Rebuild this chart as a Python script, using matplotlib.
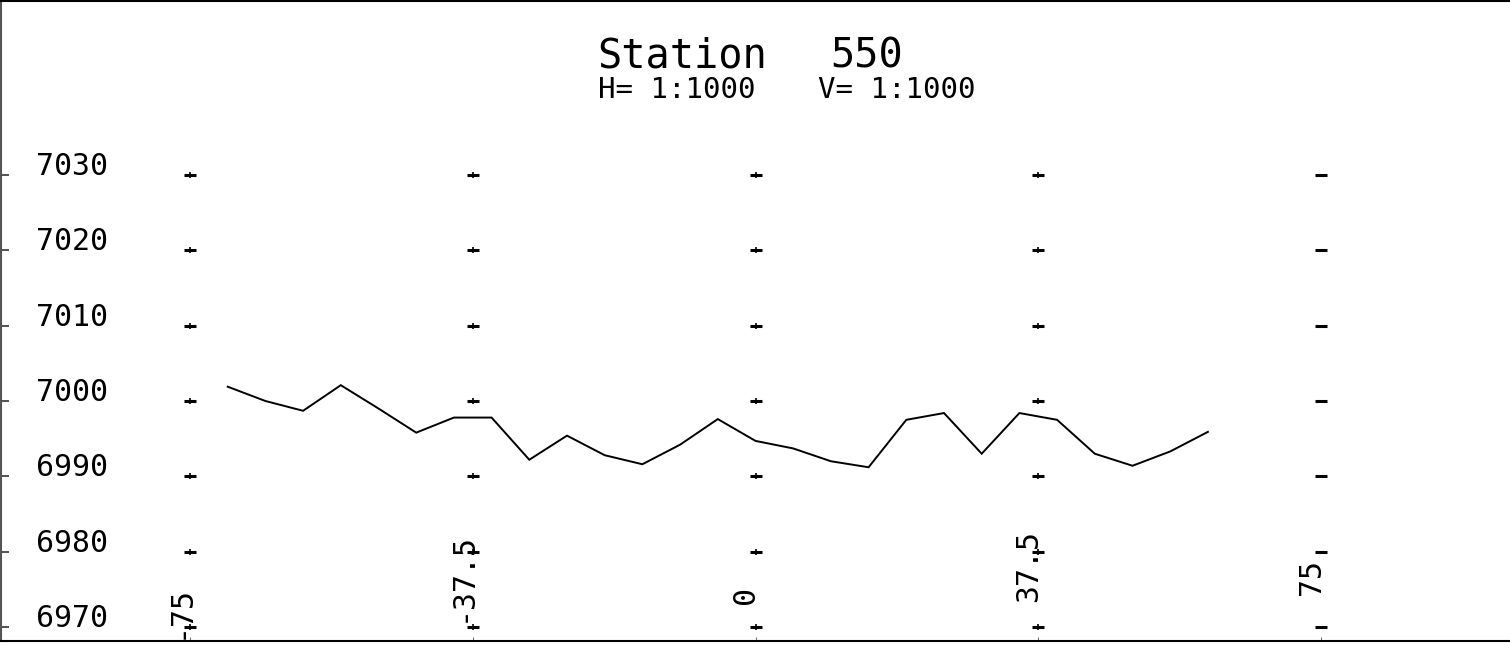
import matplotlib
matplotlib.use("Agg")
import matplotlib.pyplot as plt

# Ground profile for station 550
offsets = [-70, -65, -60, -55, -50, -45, -40, -35, -30, -25, -20, -15, -10, -5,
           0, 5, 10, 15, 20, 25, 30, 35, 40, 45, 50, 55, 60]
elevations = [7001.9, 7000.0, 6998.7, 7002.1, 6999.0, 6995.8, 6997.8, 6997.8,
              6992.2, 6995.4, 6992.8, 6991.6, 6994.2, 6997.6, 6994.7, 6993.7,
              6992.0, 6991.2, 6997.5, 6998.4, 6993.0, 6998.4, 6997.5, 6993.0,
              6991.4, 6993.3, 6995.9]

grid_x = [-75, -37.5, 0, 37.5, 75]
grid_x_labels = ["-75", "-37.5", "0", "37.5", "75"]
grid_y = [6970, 6980, 6990, 7000, 7010, 7020, 7030]

title = "Station"
station = "550"
h_scale = "H= 1:1000"
v_scale = "V= 1:1000"

W, H = 1510, 646
fig = plt.figure(figsize=(W / 100, H / 100), dpi=100)
fig.patch.set_facecolor("white")

# plot scale: pixels per unit (equal horizontal / vertical scale)
sx, sy = 7.54, 7.53
x0_px, y0_px = 755.5, 401.0  # pixel position of offset 0 / elevation 7000


def px_x(v):
    return x0_px + sx * v


def px_y(v):
    return y0_px - sy * (v - 7000)


left_px, top_px, bot_px = 1, 1, 641
ax = fig.add_axes([left_px / W, (H - bot_px) / H, (W - left_px) / W, (bot_px - top_px) / H])
ax.set_xlim((left_px - x0_px) / sx, (W - x0_px) / sx)
ax.set_ylim(7000 - (bot_px - y0_px) / sy, 7000 + (y0_px - top_px) / sy)

for side in ("left", "top", "bottom"):
    ax.spines[side].set_linewidth(1.5)
    ax.spines[side].set_color("black")
ax.spines["left"].set_color("#555555")
ax.spines["right"].set_visible(False)

ax.set_yticks(grid_y)
ax.set_xticks(grid_x)
ax.tick_params(axis="y", direction="in", length=6, width=1.2, color="#333333",
               labelleft=False)
ax.tick_params(axis="x", direction="in", length=3, width=0.8, color="#777777",
               labelbottom=False)

# grid crosses
for gx in grid_x:
    ys = grid_y
    xs = [gx] * len(ys)
    ax.plot(xs, ys, linestyle="none", marker="_", markersize=8, mew=2.2, color="black")
    if gx != grid_x[-1]:
        ax.plot(xs, ys, linestyle="none", marker="|", markersize=4, mew=1.2, color="black")

# ground line
ax.plot(offsets, elevations, color="black", linewidth=1.4, solid_joinstyle="miter")

mono = "DejaVu Sans Mono"
fs_axis = 21.5

# elevation labels
lab_x = (36 - x0_px) / sx
for gy in grid_y:
    ax.text(lab_x, gy, f"{gy}", ha="left", va="baseline", fontsize=fs_axis,
            family=mono, color="black")

# offset labels, written vertically beside each column
label_centers_px = [612, 577, 595, 566, 577]
for gx, lab, cy in zip(grid_x, grid_x_labels, label_centers_px):
    ax.text(gx - 10 / sx, 7000 - (cy - y0_px) / sy, lab, rotation=90,
            ha="center", va="center", fontsize=fs_axis, family=mono,
            color="black", clip_on=False)


def fig_text(x, y, s, size):
    fig.text(x / W, 1 - y / H, s, ha="left", va="baseline", fontsize=size,
             family=mono, color="black")


fig_text(597, 67, title, 29)
fig_text(830, 67, station, 29)
fig_text(598, 98, h_scale, 21)
fig_text(818, 98, v_scale, 21)

fig.savefig("out.png", dpi=100, facecolor="white")
